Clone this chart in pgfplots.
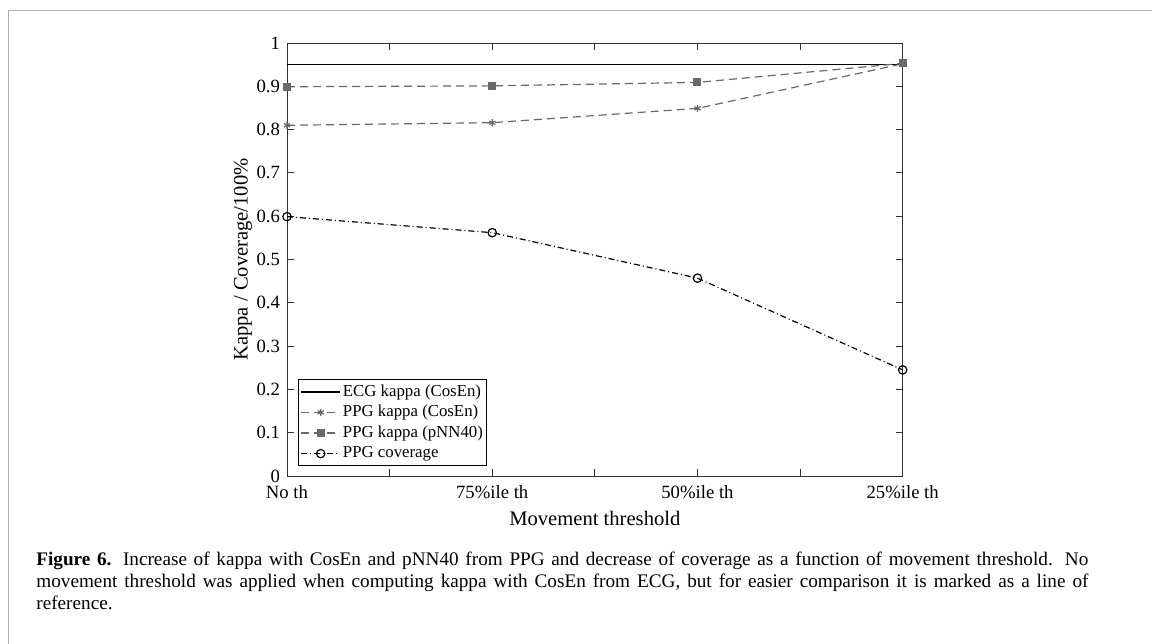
\documentclass[border=0pt]{standalone}
\usepackage{fontspec}
\setmainfont{Liberation Serif}
\usepackage{pgfplots}
\pgfplotsset{compat=1.18}
\definecolor{framegray}{RGB}{175,175,175}
\definecolor{ppggray}{RGB}{105,105,105}
\definecolor{axgray}{RGB}{50,50,50}
\begin{document}
\begin{tikzpicture}[x=1pt,y=1pt]
\path[use as bounding box] (0,0) rectangle (576,-321.5);
\draw[framegray, line width=0.8pt] (4.2,-330) -- (4.2,-5.25) -- (580,-5.25);
\begin{axis}[
  at={(143.5pt,-238pt)}, anchor=south west,
  scale only axis, width=307.85pt, height=216.5pt,
  xmin=0, xmax=3, ymin=0, ymax=1,
  xtick={0,1,2,3},
  xticklabels={No th,75\%ile th,50\%ile th,25\%ile th},
  minor xtick={0.5,1.5,2.5},
  ytick={0,0.1,0.2,0.3,0.4,0.5,0.6,0.7,0.8,0.9,1},
  yticklabels={0,0.1,0.2,0.3,0.4,0.5,0.6,0.7,0.8,0.9,1},
  tick align=inside,
  major tick length=3.5pt, minor tick length=3.5pt,
  tick style={axgray, line width=0.5pt},
  axis line style={axgray, line width=0.5pt},
  tick label style={font=\fontsize{9.35}{11}\selectfont, text=black},
  /pgf/number format/assume math mode=true,
  xticklabel style={anchor=base, yshift=-11pt},
  label style={font=\fontsize{10.3}{12}\selectfont},
  xlabel={Movement threshold},
  ylabel={Kappa / Coverage/100\%},
  xlabel style={at={(axis description cs:0.5,0)}, anchor=center, yshift=-21pt},
  ylabel style={at={(axis description cs:-0.0715,0.5)}, anchor=center, rotate=0},
  legend style={at={(rel axis cs:0.0179,0.224)}, anchor=north west,
    draw=black, line width=0.5pt, fill=white,
    font=\fontsize{8.4}{9}\selectfont, inner xsep=1pt, inner ysep=1pt,
    row sep=0pt,
    nodes={inner sep=1pt, text height=6.3pt, text depth=2pt}},
  legend cell align=left,
  legend image code/.code={\draw[mark repeat=2,mark phase=2] plot coordinates {(0pt,0pt) (9.75pt,0pt) (19.5pt,0pt)};},
]
\addplot[black, line width=0.7pt, no marks] coordinates {(0,0.951) (3,0.951)};
\addlegendentry{ECG kappa (CosEn)}
\addplot[ppggray, line width=0.6pt, dash pattern=on 4pt off 2.5pt, mark=asterisk, mark size=1.8pt, mark options={solid}]
  coordinates {(0,0.810) (1,0.816) (2,0.849) (3,0.952)};
\addlegendentry{PPG kappa (CosEn)}
\addplot[ppggray, line width=0.6pt, dash pattern=on 4pt off 2.5pt, mark=square*, mark size=1.7pt, mark options={solid}]
  coordinates {(0,0.899) (1,0.901) (2,0.909) (3,0.953)};
\addlegendentry{PPG kappa (pNN40)}
\addplot[black, line width=0.6pt, dash pattern=on 3pt off 1.5pt on 0.5pt off 1.5pt, mark=o, mark size=2.1pt, mark options={solid, line width=0.6pt}]
  coordinates {(0,0.599) (1,0.562) (2,0.457) (3,0.245)};
\addlegendentry{PPG coverage}
\end{axis}
\node[anchor=north west, inner sep=0pt, text width=526pt, align=justify,
  font=\fontsize{9.6}{11}\selectfont] at (18,-276)
  {\textbf{Figure 6.}\hspace{0.6em}Increase of kappa with CosEn and pNN40 from PPG and decrease of coverage as a function of movement threshold. No\linebreak
  movement threshold was applied when computing kappa with CosEn from ECG, but for easier comparison it is marked as a line of\linebreak
  reference.};
\end{tikzpicture}
\end{document}
